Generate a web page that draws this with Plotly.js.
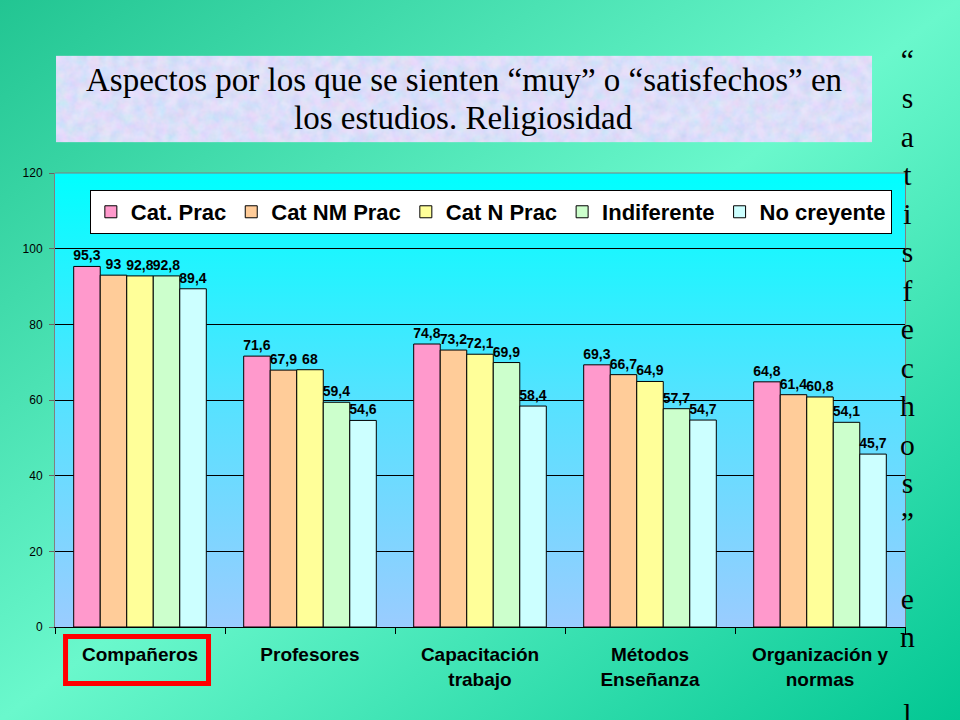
<!DOCTYPE html>
<html>
<head>
<meta charset="utf-8">
<script src="https://cdn.plot.ly/plotly-3.0.1.min.js"></script>
<style>
  html, body { margin: 0; padding: 0; }
  body {
    width: 960px; height: 720px; overflow: hidden;
    background: linear-gradient(to bottom right, #22c592 0%, #6af8cc 50%, #03c793 100%);
  }
</style>
</head>
<body>
<div id="chart" style="width:960px;height:720px;"></div>
<script>
const categories = ['Compañeros', 'Profesores', 'Capacitación<br>trabajo', 'Métodos<br>Enseñanza', 'Organización y<br>normas']

const seriesNames = ['Cat. Prac', 'Cat NM Prac', 'Cat N Prac', 'Indiferente', 'No creyente']
const seriesColors = ['#ff99cc', '#ffcc99', '#ffff99', '#ccffcc', '#ccffff']

const catPrac = [95.3, 71.6, 74.8, 69.3, 64.8]
const catNMPrac = [93, 67.9, 73.2, 66.7, 61.4]
const catNPrac = [92.8, 68, 72.1, 64.9, 60.8]
const indiferente = [92.8, 59.4, 69.9, 57.7, 54.1]
const noCreyente = [89.4, 54.6, 58.4, 54.7, 45.7]

const yTicks = [0, 20, 40, 60, 80, 100, 120]

const titleLines = ['Aspectos por los que se sienten “muy” o “satisfechos” en', 'los estudios. Religiosidad']
// the side text runs off the bottom of the slide, only up to the "l" shows
const sideText = '“satisfechos” en l'

const allValues = [catPrac, catNMPrac, catNPrac, indiferente, noCreyente]

// spanish decimal comma for the labels
function fmt(v) {
  return String(v).replace('.', ',')
}

let traces = allValues.map((vals, i) => ({
  type: 'bar',
  name: seriesNames[i],
  x: categories,
  y: vals,
  text: vals.map(fmt),
  textposition: 'outside',
  constraintext: 'none',
  cliponaxis: false,
  textfont: { family: 'Liberation Sans Narrow, Arial Narrow, Liberation Sans, sans-serif', size: 14, weight: 700, stretch: 'condensed', color: '#000' },
  marker: { color: seriesColors[i], line: { color: '#000', width: 1 } },
  hoverinfo: 'x+y+name'
}))

// backgrounds as svg data urls
const plotGrad = "data:image/svg+xml;utf8," + encodeURIComponent(
  "<svg xmlns='http://www.w3.org/2000/svg' width='100' height='100' preserveAspectRatio='none'>" +
  "<defs><linearGradient id='g' x1='0' y1='0' x2='0' y2='1'>" +
  "<stop offset='0' stop-color='#00ffff'/><stop offset='0.5' stop-color='#55e2ff'/><stop offset='1' stop-color='#9accff'/>" +
  "</linearGradient></defs><rect width='100' height='100' fill='url(#g)'/></svg>")

const titleTex = "data:image/svg+xml;utf8," + encodeURIComponent(
  "<svg xmlns='http://www.w3.org/2000/svg' width='816' height='86'>" +
  "<filter id='n'><feTurbulence type='fractalNoise' baseFrequency='0.09' numOctaves='3' seed='4'/>" +
  "<feColorMatrix type='matrix' values='0.8 0 0 0 0.42  0 0.4 0 0 0.58  0 0 0.3 0 0.8  0 0 0 0 0.5'/></filter>" +
  "<rect width='816' height='86' fill='#cfd8f8'/><rect width='816' height='86' filter='url(#n)'/></svg>")

const sideLetters = Array.from(sideText).map(c => c === ' ' ? '\u00a0' : c).join('<br>')

const serif = 'Liberation Serif, Times New Roman, serif'

let layout = {
  width: 960,
  height: 720,
  margin: { l: 55, r: 55, t: 173, b: 93, pad: 0 },
  paper_bgcolor: 'rgba(0,0,0,0)',
  plot_bgcolor: 'rgba(0,0,0,0)',
  font: { family: 'Liberation Sans, Arial, sans-serif', color: '#000' },
  barmode: 'group',
  bargap: 0.22,
  bargroupgap: 0,
  showlegend: true,
  legend: {
    orientation: 'h',
    x: 0.041, y: 0.9626, xanchor: 'left', yanchor: 'top',
    bgcolor: '#fff', bordercolor: '#000', borderwidth: 1,
    font: { family: 'Liberation Sans, Arial, sans-serif', size: 22, weight: 700, color: '#000' },
    itemclick: false
  },
  xaxis: {
    type: 'category',
    tickson: 'boundaries',
    ticks: 'outside', ticklen: 6, tickcolor: '#000',
    ticklabelstandoff: 10,
    showline: true, linecolor: '#000', linewidth: 1,
    showgrid: false,
    tickfont: { family: 'Liberation Sans, Arial, sans-serif', size: 19, weight: 700, color: '#000' },
    fixedrange: true
  },
  yaxis: {
    range: [0, 120],
    tickvals: yTicks,
    ticks: 'outside', ticklen: 5, tickcolor: '#666',
    ticklabelstandoff: 4,
    showline: true, linecolor: '#808080', linewidth: 1, mirror: true,
    showgrid: true, gridcolor: '#000', gridwidth: 1,
    zeroline: false,
    tickfont: { family: 'Liberation Sans, Arial, sans-serif', size: 12, color: '#000' },
    fixedrange: true
  },
  images: [
    { source: plotGrad, xref: 'paper', yref: 'paper', x: 0, y: 1, sizex: 1, sizey: 1,
      xanchor: 'left', yanchor: 'top', sizing: 'stretch', layer: 'below' },
    { source: titleTex, xref: 'paper', yref: 'paper', x: 0.0012, y: 1.258, sizex: 0.96, sizey: 0.19,
      xanchor: 'left', yanchor: 'top', sizing: 'stretch', layer: 'below' }
  ],
  shapes: [
    // top border of plot area
    { type: 'line', xref: 'paper', yref: 'paper', x0: 0, x1: 1, y0: 1, y1: 1, line: { color: '#808080', width: 1 } },
    // red box round Compañeros
    { type: 'rect', xref: 'paper', yref: 'paper', x0: 0.0124, x1: 0.1806, y0: -0.1245, y1: -0.0209,
      line: { color: '#ff0000', width: 5 } }
  ],
  annotations: [
    { text: titleLines[0], xref: 'paper', yref: 'paper', x: 0.481, y: (627 - 80) / 454, xanchor: 'center', yanchor: 'middle',
      showarrow: false, font: { family: serif, size: 33, color: '#000' } },
    { text: titleLines[1], xref: 'paper', yref: 'paper', x: 0.481, y: (627 - 118) / 454, xanchor: 'center', yanchor: 'middle',
      showarrow: false, font: { family: serif, size: 33, color: '#000' } },
    { text: sideLetters, xref: 'paper', yref: 'paper', x: 1.0035, y: 1.289, xanchor: 'center', yanchor: 'top',
      showarrow: false, align: 'center',
      font: { family: serif, size: 29.6, color: '#000' } }
  ]
}

Plotly.newPlot('chart', traces, layout, { displayModeBar: false, staticPlot: true })
</script>
</body>
</html>
